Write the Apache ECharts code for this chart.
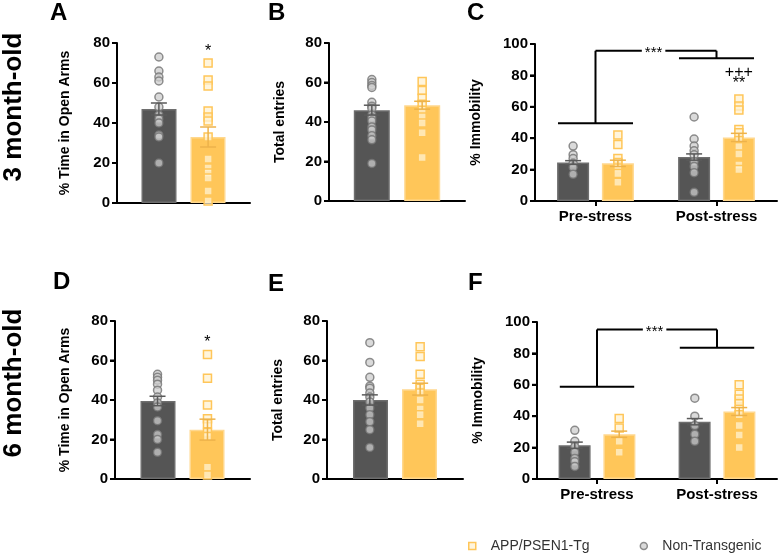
<!DOCTYPE html>
<html>
<head>
<meta charset="utf-8">
<script src="https://cdn.jsdelivr.net/npm/echarts@6/dist/echarts.min.js"></script>
<style>
    html, body { margin: 0; padding: 0; background: #fff; }
    #chart { width: 778px; height: 555px; }
</style>
</head>
<body>
<div id="chart"></div>
<script>
// data
var groups = ['Non-Transgenic', 'APP/PSEN1-Tg'];
var singleCat = [''];
var stressCats = ['Pre-stress', 'Post-stress'];

// A - 3 month, % time in open arms
var open3MeanNT = [47], open3MeanTg = [33];
var open3SemNT = [3], open3SemTg = [5];
var open3NT = [[73, 66, 63, 61, 53, 48, 44, 42, 40, 34, 33, 20]];
var open3Tg = [[70, 61.5, 58.5, 46, 43, 41, 33, 22, 17.5, 15, 12.5, 6, 1]];

// B - 3 month, total entries
var entries3MeanNT = [46], entries3MeanTg = [48.5];
var entries3SemNT = [2.5], entries3SemTg = [2];
var entries3NT = [[61.5, 60, 58.5, 57.5, 50, 48, 47, 43.5, 42, 40.5, 37.5, 36, 33, 31, 19]];
var entries3Tg = [[60.5, 56, 52, 49, 46, 42.5, 39.5, 34.5, 22]];

// C - 3 month, % immobility
var immob3MeanNT = [24.5, 28], immob3MeanTg = [24, 40.5];
var immob3SemNT = [1.2, 2], immob3SemTg = [2, 2.6];
var immob3NT = [[35, 29.5, 27, 24, 21.5, 17], [53.5, 39.5, 35, 32, 29.5, 25, 22, 18, 5.5]];
var immob3Tg = [[42, 36, 27, 24.5, 21, 17.5, 12], [65, 60.5, 58, 45.5, 43.5, 38.5, 34.5, 30, 23, 20]];

// D - 6 month, % time in open arms
var open6MeanNT = [39.5], open6MeanTg = [25];
var open6SemNT = [2.4], open6SemTg = [5.3];
var open6NT = [[53, 51.5, 50, 48, 45, 41.5, 38.5, 36.5, 29.5, 22.5, 20, 13.5]];
var open6Tg = [[63, 51, 37.5, 30.5, 28, 23.5, 21.5, 6, 2]];

// E - 6 month, total entries
var entries6MeanNT = [40], entries6MeanTg = [45.5];
var entries6SemNT = [2.6], entries6SemTg = [3];
var entries6NT = [[69, 59, 51.5, 47, 46, 43.5, 41.5, 39, 36, 32.5, 29, 25, 16]];
var entries6Tg = [[67, 62, 53, 48, 46, 43.5, 40, 35.5, 32.5, 28]];

// F - 6 month, % immobility
var immob6MeanNT = [21.5, 36.5], immob6MeanTg = [28.5, 43];
var immob6SemNT = [2, 2], immob6SemTg = [2, 2.5];
var immob6NT = [[31, 24, 20.5, 17, 13, 11, 8], [51.5, 40, 34, 28.5, 24]];
var immob6Tg = [[38.5, 32.5, 24, 17], [60, 54, 51, 48, 44.5, 41, 34, 28, 20]];

// significance marks: [category, group, y, text]
var open3Marks = [[0, 1, 75.5, '*']];
var immob3Marks = [[1, 1, 82, '+++'], [1, 1, 74.5, '**']];
var open6Marks = [[0, 1, 69, '*']];

// bracket levels: [pre line, top line, post line]
var immob3Bracket = [49.5, 95.7, 90.9];
var immob6Bracket = [58.8, 95.3, 83.6];

var FONT = '"Liberation Sans", Arial, Helvetica, sans-serif';
var DARK = '#555555';
var YELLOW = '#FFC659';
var OFF = 0.185;   // bar centre offset, as a share of the category band
var STEP = 20;

var ntStyle = { color: 'rgba(205,205,205,0.75)', borderColor: 'rgba(115,115,115,0.8)', borderWidth: 1.5 };
var tgStyle = { color: 'rgba(255,242,210,0.75)', borderColor: YELLOW, borderWidth: 1.5 };

var panels = [
    { letter: 'A', lx: 50, ly: 13.5, left: 117, top: 43, width: 133, height: 160, max: 80, yName: '% Time in Open Arms', nameGap: 45, cats: singleCat, barWidth: 35,
      meanNT: open3MeanNT, meanTg: open3MeanTg, semNT: open3SemNT, semTg: open3SemTg, ptsNT: open3NT, ptsTg: open3Tg, marks: open3Marks },
    { letter: 'B', lx: 268, ly: 13.5, left: 329, top: 43, width: 136, height: 158, max: 80, yName: 'Total entries', nameGap: 42, cats: singleCat, barWidth: 36,
      meanNT: entries3MeanNT, meanTg: entries3MeanTg, semNT: entries3SemNT, semTg: entries3SemTg, ptsNT: entries3NT, ptsTg: entries3Tg, marks: [] },
    { letter: 'C', lx: 467, ly: 13.5, left: 535, top: 44, width: 242, height: 157, max: 100, yName: '% Immobility', nameGap: 52, cats: stressCats, barWidth: 32,
      meanNT: immob3MeanNT, meanTg: immob3MeanTg, semNT: immob3SemNT, semTg: immob3SemTg, ptsNT: immob3NT, ptsTg: immob3Tg, marks: immob3Marks, bracket: immob3Bracket },
    { letter: 'D', lx: 53, ly: 282, left: 115, top: 321, width: 135, height: 158, max: 80, yName: '% Time in Open Arms', nameGap: 43, cats: singleCat, barWidth: 35,
      meanNT: open6MeanNT, meanTg: open6MeanTg, semNT: open6SemNT, semTg: open6SemTg, ptsNT: open6NT, ptsTg: open6Tg, marks: open6Marks },
    { letter: 'E', lx: 268, ly: 284, left: 327, top: 321, width: 136, height: 158, max: 80, yName: 'Total entries', nameGap: 42, cats: singleCat, barWidth: 35,
      meanNT: entries6MeanNT, meanTg: entries6MeanTg, semNT: entries6SemNT, semTg: entries6SemTg, ptsNT: entries6NT, ptsTg: entries6Tg, marks: [] },
    { letter: 'F', lx: 468, ly: 283, left: 537, top: 322, width: 240, height: 157, max: 100, yName: '% Immobility', nameGap: 52, cats: stressCats, barWidth: 32,
      meanNT: immob6MeanNT, meanTg: immob6MeanTg, semNT: immob6SemNT, semTg: immob6SemTg, ptsNT: immob6NT, ptsTg: immob6Tg, marks: [], bracket: immob6Bracket }
];

// pixel point of (category, share of band, value)
function at(api, ci, frac, v) {
    var p = api.coord([ci, v]);
    return [p[0] + frac * api.size([1, 0])[0], p[1]];
}

function pointRenderer(shape, off, st) {
    return function (params, api) {
        var p = at(api, api.value(0), off, api.value(1));
        var style = { fill: st.color, stroke: st.borderColor, lineWidth: st.borderWidth };
        if (shape === 'circle') {
            return { type: 'circle', shape: { cx: p[0], cy: p[1], r: 4 }, style: style };
        }
        return { type: 'rect', shape: { x: p[0] - 4, y: p[1] - 4, width: 8, height: 8 }, style: style };
    };
}

function errRenderer(off, color) {
    return function (params, api) {
        var ci = api.value(0), m = api.value(1), s = api.value(2);
        var top = at(api, ci, off, m + s);
        var bot = at(api, ci, off, m - s);
        var st = { stroke: color, lineWidth: 1.5 };
        return {
            type: 'group',
            children: [
                { type: 'line', shape: { x1: top[0], y1: top[1], x2: bot[0], y2: bot[1] }, style: st },
                { type: 'line', shape: { x1: top[0] - 8, y1: top[1], x2: top[0] + 8, y2: top[1] }, style: st },
                { type: 'line', shape: { x1: bot[0] - 8, y1: bot[1], x2: bot[0] + 8, y2: bot[1] }, style: st }
            ]
        };
    };
}

function markRenderer(marks) {
    return function (params, api) {
        var mk = marks[params.dataIndex];
        var p = at(api, api.value(0), mk[1] ? OFF : -OFF, api.value(1));
        return {
            type: 'text', x: p[0], y: p[1],
            style: { text: mk[3], font: '16px ' + FONT, fill: '#000', align: 'center', verticalAlign: 'middle' }
        };
    };
}

function bracketRender(params, api) {
    var low = api.value(0), high = api.value(1), right = api.value(2);
    var a = at(api, 0, -0.31, low), b = at(api, 0, 0.31, low);
    var c = at(api, 0, 0, low), d = at(api, 0, 0, high);
    var e = at(api, 1, 0, high), f = at(api, 1, 0, right);
    var g = at(api, 1, -0.31, right), h = at(api, 1, 0.31, right);
    var mid = at(api, 0, 0.48, high);
    var st = { stroke: '#000', lineWidth: 2 };
    return {
        type: 'group',
        children: [
            { type: 'line', shape: { x1: a[0], y1: a[1], x2: b[0], y2: b[1] }, style: st },
            { type: 'line', shape: { x1: c[0], y1: c[1], x2: d[0], y2: d[1] }, style: st },
            { type: 'line', shape: { x1: d[0], y1: d[1], x2: e[0], y2: e[1] }, style: st },
            { type: 'line', shape: { x1: e[0], y1: e[1], x2: f[0], y2: f[1] }, style: st },
            { type: 'line', shape: { x1: g[0], y1: g[1], x2: h[0], y2: h[1] }, style: st },
            { type: 'text', x: mid[0], y: mid[1] + 2, z2: 10,
              style: { text: '***', font: '15px ' + FONT, fill: '#000', align: 'center', verticalAlign: 'middle',
                       backgroundColor: '#fff', padding: [0, 3] } }
        ]
    };
}

function pointData(pts) {
    var out = [];
    pts.forEach(function (list, ci) {
        list.forEach(function (v) { out.push([ci, v]); });
    });
    return out;
}

var grids = [], xAxes = [], yAxes = [], series = [], graphics = [];

panels.forEach(function (p, i) {
    var multi = p.cats.length > 1;
    grids.push({ left: p.left, top: p.top, width: p.width, height: p.height });

    xAxes.push({
        type: 'category', gridIndex: i, data: p.cats,
        axisLine: { lineStyle: { color: '#000', width: 2 } },
        axisTick: { show: multi, alignWithLabel: true, length: 5, lineStyle: { color: '#000', width: 2 } },
        axisLabel: { show: multi, color: '#000', fontSize: 15, fontWeight: 'bold', fontFamily: FONT, margin: 8 }
    });

    yAxes.push({
        type: 'value', gridIndex: i, position: 'left', min: 0, max: p.max, interval: STEP,
        name: p.yName, nameLocation: 'middle', nameGap: p.nameGap,
        nameTextStyle: { color: '#000', fontSize: 14, fontWeight: 'bold', fontFamily: FONT },
        axisLine: { show: true, lineStyle: { color: '#000', width: 2 } },
        axisTick: { show: true, length: 5, lineStyle: { color: '#000', width: 2 } },
        axisLabel: { color: '#000', fontSize: 15, fontWeight: 'bold', fontFamily: FONT, margin: 7 },
        splitLine: { show: false }
    });

    series.push({
        name: 'NT mean', type: 'bar', xAxisIndex: i, yAxisIndex: i, data: p.meanNT,
        barWidth: p.barWidth, barGap: '40%', silent: true,
        itemStyle: { color: DARK, borderColor: '#6e6e6e', borderWidth: 1.5 }
    });
    series.push({
        name: 'Tg mean', type: 'bar', xAxisIndex: i, yAxisIndex: i, data: p.meanTg,
        barWidth: p.barWidth, barGap: '40%', silent: true,
        itemStyle: { color: YELLOW, borderColor: '#FFD88E', borderWidth: 1.5 }
    });

    series.push({
        name: groups[0], type: 'custom', xAxisIndex: i, yAxisIndex: i, z: 3, silent: true,
        itemStyle: ntStyle, renderItem: pointRenderer('circle', -OFF, ntStyle), data: pointData(p.ptsNT)
    });
    series.push({
        name: groups[1], type: 'custom', xAxisIndex: i, yAxisIndex: i, z: 3, silent: true,
        itemStyle: tgStyle, renderItem: pointRenderer('rect', OFF, tgStyle), data: pointData(p.ptsTg)
    });

    series.push({
        type: 'custom', xAxisIndex: i, yAxisIndex: i, z: 4, silent: true,
        renderItem: errRenderer(-OFF, '#5a5a5a'),
        data: p.meanNT.map(function (m, ci) { return [ci, m, p.semNT[ci]]; })
    });
    series.push({
        type: 'custom', xAxisIndex: i, yAxisIndex: i, z: 4, silent: true,
        renderItem: errRenderer(OFF, '#EDB24B'),
        data: p.meanTg.map(function (m, ci) { return [ci, m, p.semTg[ci]]; })
    });

    if (p.marks.length) {
        series.push({
            type: 'custom', xAxisIndex: i, yAxisIndex: i, z: 5, silent: true,
            renderItem: markRenderer(p.marks),
            data: p.marks.map(function (mk) { return [mk[0], mk[2]]; })
        });
    }

    if (p.bracket) {
        series.push({
            type: 'custom', xAxisIndex: i, yAxisIndex: i, z: 5, silent: true,
            renderItem: bracketRender, data: [p.bracket]
        });
    }

    graphics.push({
        type: 'text', x: p.lx, y: p.ly,
        style: { text: p.letter, font: 'bold 24px ' + FONT, fill: '#000', align: 'left', verticalAlign: 'middle' }
    });
});

graphics.push({
    type: 'text', x: 14, y: 107, rotation: Math.PI / 2,
    style: { text: '3 month-old', font: 'bold 26px ' + FONT, fill: '#000', align: 'center', verticalAlign: 'middle' }
});
graphics.push({
    type: 'text', x: 14, y: 383, rotation: Math.PI / 2,
    style: { text: '6 month-old', font: 'bold 26px ' + FONT, fill: '#000', align: 'center', verticalAlign: 'middle' }
});

var chart = echarts.init(document.getElementById('chart'));

var option = {
    backgroundColor: '#fff',
    animation: false,
    grid: grids,
    xAxis: xAxes,
    yAxis: yAxes,
    legend: {
        left: 463,
        top: 534,
        itemWidth: 7,
        itemHeight: 7,
        itemGap: 50,
        selectedMode: false,
        textStyle: { color: '#333', fontSize: 14, fontFamily: FONT, padding: [0, 0, 0, 10] },
        data: [
            { name: groups[1], icon: 'rect', itemStyle: tgStyle },
            { name: groups[0], icon: 'circle', itemStyle: ntStyle }
        ]
    },
    graphic: graphics,
    series: series
};

chart.setOption(option);

// y axis lines and ticks, placed from the y scales, on a layer above the plot
var axisMarks = [];
panels.forEach(function (p, i) {
    var yBase = chart.convertToPixel({ yAxisIndex: i }, 0);
    var yTop = chart.convertToPixel({ yAxisIndex: i }, p.max);
    var st = { stroke: '#000', lineWidth: 2 };
    axisMarks.push({ type: 'line', zlevel: 1, z: 100, shape: { x1: p.left, y1: yBase + 1, x2: p.left, y2: yTop }, style: st });
    for (var v = 0; v <= p.max; v += STEP) {
        var y = chart.convertToPixel({ yAxisIndex: i }, v);
        axisMarks.push({ type: 'line', zlevel: 1, z: 100, shape: { x1: p.left - 5, y1: y, x2: p.left, y2: y }, style: st });
    }
});

chart.setOption({ graphic: graphics.concat(axisMarks) });
</script>
</body>
</html>
